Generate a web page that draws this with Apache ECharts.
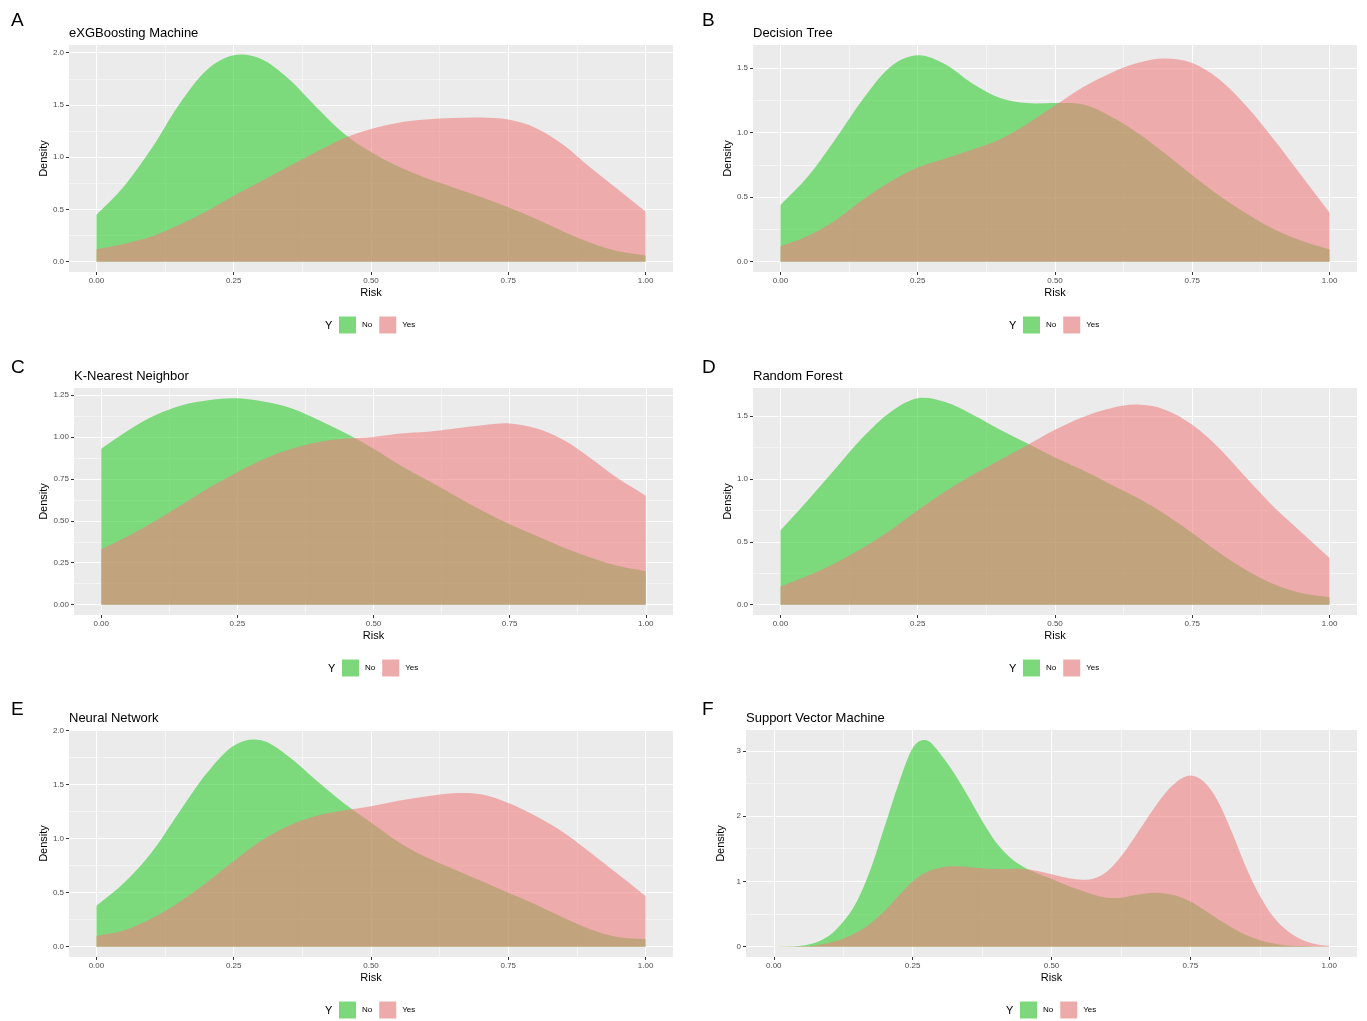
<!DOCTYPE html>
<html>
<head>
<meta charset="utf-8">
<script src="https://cdn.jsdelivr.net/npm/echarts@6/dist/echarts.min.js"></script>
<style>
html,body{margin:0;padding:0;background:#ffffff;}
#main{width:1367px;height:1021px;}
</style>
</head>
<body>
<div id="main"></div>
<script>
// ---------------- DATA ----------------
const panelLetters = ['A', 'B', 'C', 'D', 'E', 'F'];
const panelTitles = ['eXGBoosting Machine', 'Decision Tree', 'K-Nearest Neighbor', 'Random Forest', 'Neural Network', 'Support Vector Machine'];
const groupNames = ['No', 'Yes'];
const legendTitle = 'Y';
const xAxisTitle = 'Risk';
const yAxisTitle = 'Density';
const xTickLabels = ['0.00', '0.25', '0.50', '0.75', '1.00'];

const riskSteps = [0, 0.05, 0.1, 0.15, 0.2, 0.25, 0.3, 0.35, 0.4, 0.45, 0.5, 0.55, 0.6, 0.65, 0.7, 0.75, 0.8, 0.85, 0.9, 0.95, 1.0];
const svmRisk = [0, 0.025, 0.05, 0.075, 0.1, 0.125, 0.15, 0.175, 0.2, 0.225, 0.25, 0.275, 0.3, 0.325, 0.35, 0.375, 0.4, 0.425, 0.45, 0.475, 0.5,
                 0.525, 0.55, 0.575, 0.6, 0.625, 0.65, 0.675, 0.7, 0.725, 0.75, 0.775, 0.8, 0.825, 0.85, 0.875, 0.9, 0.925, 0.95, 0.975, 1.0];

const xgbNo  = [0.45, 0.72, 1.08, 1.50, 1.83, 1.975, 1.94, 1.75, 1.48, 1.23, 1.05, 0.91, 0.80, 0.71, 0.62, 0.52, 0.41, 0.29, 0.18, 0.10, 0.06];
const xgbYes = [0.12, 0.17, 0.24, 0.35, 0.48, 0.63, 0.77, 0.91, 1.05, 1.18, 1.27, 1.33, 1.36, 1.375, 1.38, 1.36, 1.28, 1.12, 0.90, 0.69, 0.48];

const dtNo  = [0.44, 0.66, 0.95, 1.26, 1.51, 1.60, 1.53, 1.38, 1.27, 1.23, 1.23, 1.22, 1.13, 1.00, 0.84, 0.67, 0.51, 0.37, 0.25, 0.16, 0.095];
const dtYes = [0.12, 0.20, 0.32, 0.48, 0.62, 0.73, 0.80, 0.87, 0.95, 1.07, 1.21, 1.35, 1.46, 1.54, 1.575, 1.54, 1.41, 1.20, 0.94, 0.66, 0.38];

const knnNo  = [0.93, 1.04, 1.13, 1.19, 1.22, 1.23, 1.21, 1.17, 1.10, 1.02, 0.93, 0.83, 0.74, 0.65, 0.56, 0.48, 0.41, 0.34, 0.28, 0.23, 0.20];
const knnYes = [0.33, 0.41, 0.50, 0.60, 0.70, 0.79, 0.87, 0.93, 0.97, 0.99, 1.00, 1.02, 1.03, 1.05, 1.07, 1.08, 1.05, 0.98, 0.87, 0.75, 0.65];

const rfNo  = [0.59, 0.83, 1.08, 1.33, 1.53, 1.64, 1.61, 1.51, 1.39, 1.28, 1.17, 1.07, 0.96, 0.85, 0.72, 0.57, 0.41, 0.27, 0.16, 0.09, 0.06];
const rfYes = [0.145, 0.23, 0.33, 0.45, 0.59, 0.75, 0.90, 1.03, 1.15, 1.27, 1.39, 1.49, 1.56, 1.59, 1.55, 1.43, 1.24, 1.00, 0.77, 0.57, 0.37];

const nnNo  = [0.38, 0.59, 0.87, 1.24, 1.60, 1.86, 1.91, 1.76, 1.54, 1.33, 1.15, 0.97, 0.83, 0.72, 0.61, 0.50, 0.39, 0.27, 0.16, 0.09, 0.07];
const nnYes = [0.10, 0.15, 0.26, 0.41, 0.59, 0.79, 0.98, 1.12, 1.21, 1.26, 1.30, 1.35, 1.39, 1.42, 1.41, 1.33, 1.21, 1.06, 0.87, 0.67, 0.47];

const svmNo  = [0, 0.002, 0.015, 0.06, 0.17, 0.38, 0.70, 1.20, 1.85, 2.50, 3.04, 3.16, 2.95, 2.65, 2.30, 1.93, 1.60, 1.37, 1.22, 1.12, 1.04,
                0.95, 0.87, 0.80, 0.75, 0.75, 0.79, 0.82, 0.82, 0.78, 0.69, 0.56, 0.42, 0.29, 0.18, 0.10, 0.05, 0.02, 0.01, 0.002, 0];
const svmYes = [0, 0.001, 0.005, 0.02, 0.06, 0.12, 0.22, 0.36, 0.55, 0.78, 1.00, 1.14, 1.21, 1.23, 1.22, 1.20, 1.19, 1.19, 1.19, 1.16, 1.11,
                1.06, 1.03, 1.04, 1.15, 1.38, 1.68, 2.00, 2.30, 2.52, 2.62, 2.52, 2.22, 1.75, 1.22, 0.78, 0.45, 0.24, 0.11, 0.04, 0.01];

const yTicksXgb = ['0.0', '0.5', '1.0', '1.5', '2.0'];
const yTicksDt  = ['0.0', '0.5', '1.0', '1.5'];
const yTicksKnn = ['0.00', '0.25', '0.50', '0.75', '1.00', '1.25'];
const yTicksRf  = ['0.0', '0.5', '1.0', '1.5'];
const yTicksNn  = ['0.0', '0.5', '1.0', '1.5', '2.0'];
const yTicksSvm = ['0', '1', '2', '3'];

const panels = [
  { x: riskSteps, no: xgbNo, yes: xgbYes, yTicks: yTicksXgb },
  { x: riskSteps, no: dtNo,  yes: dtYes,  yTicks: yTicksDt },
  { x: riskSteps, no: knnNo, yes: knnYes, yTicks: yTicksKnn },
  { x: riskSteps, no: rfNo,  yes: rfYes,  yTicks: yTicksRf },
  { x: riskSteps, no: nnNo,  yes: nnYes,  yTicks: yTicksNn },
  { x: svmRisk,   no: svmNo, yes: svmYes, yTicks: yTicksSvm }
];

// ---------------- LAYOUT / STYLE ----------------
const layout = [
  { gl: 69,  gt: 45,  gw: 604, letterX: 11,  letterY: 19,  titleX: 69,  titleY: 32,  legX: 339,  legY: 325,  yX: 325 },
  { gl: 753, gt: 45,  gw: 604, letterX: 702, letterY: 19,  titleX: 753, titleY: 32,  legX: 1023, legY: 325,  yX: 1009 },
  { gl: 74,  gt: 388, gw: 599, letterX: 11,  letterY: 366, titleX: 74,  titleY: 375, legX: 342,  legY: 668,  yX: 328 },
  { gl: 753, gt: 388, gw: 604, letterX: 702, letterY: 366, titleX: 753, titleY: 375, legX: 1023, legY: 668,  yX: 1009 },
  { gl: 69,  gt: 730, gw: 604, letterX: 11,  letterY: 708, titleX: 69,  titleY: 717, legX: 339,  legY: 1010, yX: 325 },
  { gl: 746, gt: 730, gw: 611, letterX: 702, letterY: 708, titleX: 746, titleY: 717, legX: 1020, legY: 1010, yX: 1006 }
];
const PANEL_H = 227;
const FONT = '"Liberation Sans", Arial, Helvetica, sans-serif';
const fillNo = 'rgba(50,205,50,0.6)';
const fillYes = 'rgba(240,128,128,0.6)';
const keyNo = '#7CD87A';
const keyYes = '#EDAAAA';

function minorOf(vals, lo, hi) {
  const out = [];
  const step = vals[1] - vals[0];
  const ext = [vals[0] - step].concat(vals, [vals[vals.length - 1] + step]);
  for (let i = 0; i < ext.length - 1; i++) {
    const m = (ext[i] + ext[i + 1]) / 2;
    if (m > lo && m < hi) out.push(m);
  }
  return out;
}
function labelFormatter(labels) {
  const vals = labels.map(Number);
  return function (v) {
    let best = 0;
    for (let i = 1; i < vals.length; i++) if (Math.abs(vals[i] - v) < Math.abs(vals[best] - v)) best = i;
    return labels[best];
  };
}

// Smooth cubic Hermite area path through the data points, mapped with the axis scales (api.coord)
function densityPath(pts, api) {
  const n = pts.length;
  const slope = [];
  for (let i = 0; i < n; i++) {
    const a = pts[Math.max(0, i - 1)], b = pts[Math.min(n - 1, i + 1)];
    slope.push((b[1] - a[1]) / (b[0] - a[0]));
  }
  const fmt = (p) => { const q = api.coord(p); return q[0].toFixed(2) + ' ' + q[1].toFixed(2); };
  let d = 'M' + fmt([pts[0][0], 0]) + ' L' + fmt(pts[0]);
  for (let i = 0; i < n - 1; i++) {
    const p0 = pts[i], p1 = pts[i + 1], h = p1[0] - p0[0];
    const c1 = [p0[0] + h / 3, Math.max(0, p0[1] + slope[i] * h / 3)];
    const c2 = [p1[0] - h / 3, Math.max(0, p1[1] - slope[i + 1] * h / 3)];
    d += ' C' + fmt(c1) + ' ' + fmt(c2) + ' ' + fmt(p1);
  }
  d += ' L' + fmt([pts[n - 1][0], 0]) + ' Z';
  return d;
}

const grids = [], xAxes = [], yAxes = [], series = [], titles = [], legends = [];

panels.forEach((p, i) => {
  const L = layout[i];
  const xs = p.x;
  const xMinD = Math.min.apply(null, xs), xMaxD = Math.max.apply(null, xs);
  const xPad = 0.05 * (xMaxD - xMinD);
  const xMin = xMinD - xPad, xMax = xMaxD + xPad;
  const yMaxD = Math.max(Math.max.apply(null, p.no), Math.max.apply(null, p.yes));
  const yMin = -0.05 * yMaxD, yMax = 1.05 * yMaxD;

  const xMajor = xTickLabels.map(Number);
  const yMajor = p.yTicks.map(Number);
  const xMinor = minorOf(xMajor, xMin, xMax);
  const yMinor = minorOf(yMajor, yMin, yMax);

  grids.push({
    left: L.gl, top: L.gt, width: L.gw, height: PANEL_H,
    show: true, backgroundColor: '#EBEBEB', borderWidth: 0
  });

  xAxes.push({
    type: 'value', gridIndex: i, min: xMin, max: xMax, position: 'bottom',
    axisLine: { show: false, onZero: false },
    axisTick: { show: true, length: 3, customValues: xMajor, lineStyle: { color: '#333333', width: 1 } },
    axisLabel: { show: true, customValues: xMajor, formatter: labelFormatter(xTickLabels), fontSize: 8, color: '#4D4D4D', margin: 5, fontFamily: FONT },
    splitLine: { show: true, lineStyle: { color: '#FFFFFF', width: 1.1 } },
    name: xAxisTitle, nameLocation: 'middle', nameGap: 15,
    nameTextStyle: { fontSize: 11, color: '#000000', fontFamily: FONT }
  });
  xAxes.push({
    type: 'value', gridIndex: i, min: xMin, max: xMax, position: 'bottom',
    axisLine: { show: false, onZero: false },
    axisTick: { show: false, customValues: xMinor },
    axisLabel: { show: false },
    splitLine: { show: true, lineStyle: { color: '#FFFFFF', width: 0.5 } }
  });

  yAxes.push({
    type: 'value', gridIndex: i, min: yMin, max: yMax, position: 'left',
    axisLine: { show: false, onZero: false },
    axisTick: { show: true, length: 3, customValues: yMajor, lineStyle: { color: '#333333', width: 1 } },
    axisLabel: { show: true, customValues: yMajor, formatter: labelFormatter(p.yTicks), fontSize: 8, color: '#4D4D4D', margin: 5, fontFamily: FONT },
    splitLine: { show: true, lineStyle: { color: '#FFFFFF', width: 1.1 } },
    name: yAxisTitle, nameLocation: 'middle', nameGap: 20, nameRotate: 90,
    nameTextStyle: { fontSize: 11, color: '#000000', fontFamily: FONT }
  });
  yAxes.push({
    type: 'value', gridIndex: i, min: yMin, max: yMax, position: 'left',
    axisLine: { show: false, onZero: false },
    axisTick: { show: false, customValues: yMinor },
    axisLabel: { show: false },
    splitLine: { show: true, lineStyle: { color: '#FFFFFF', width: 0.5 } }
  });

  const mk = (name, vals, fill, key) => {
    const pts = xs.map((x, j) => [x, vals[j]]);
    return {
      type: 'custom', name: name, xAxisIndex: 2 * i, yAxisIndex: 2 * i,
      data: pts, encode: { x: 0, y: 1 }, silent: true, animation: false,
      itemStyle: { color: key },
      renderItem: function (params, api) {
        if (params.dataIndex !== 0) return null;
        return { type: 'path', shape: { pathData: densityPath(pts, api) }, style: { fill: fill, stroke: null } };
      }
    };
  };
  series.push(mk(groupNames[0], p.no, fillNo, keyNo));
  series.push(mk(groupNames[1], p.yes, fillYes, keyYes));

  titles.push({ text: panelLetters[i], left: L.letterX, top: L.letterY - 8, padding: 0,
    textStyle: { fontSize: 19, fontWeight: 'normal', color: '#000000', fontFamily: FONT } });
  titles.push({ text: panelTitles[i], left: L.titleX, top: L.titleY - 5, padding: 0,
    textStyle: { fontSize: 13, fontWeight: 'normal', color: '#000000', fontFamily: FONT } });
  titles.push({ text: legendTitle, left: L.yX, top: L.legY - 5, padding: 0,
    textStyle: { fontSize: 11, fontWeight: 'normal', color: '#000000', fontFamily: FONT } });

  legends.push({
    left: L.legX, top: L.legY - 8.5, orient: 'horizontal', padding: 0,
    itemWidth: 17, itemHeight: 17, itemGap: 7, icon: 'rect', selectedMode: false,
    textStyle: { fontSize: 8, color: '#000000', fontFamily: FONT, padding: [0, 0, 0, 1] },
    data: [
      { name: groupNames[0], itemStyle: { color: keyNo, borderWidth: 0 } },
      { name: groupNames[1], itemStyle: { color: keyYes, borderWidth: 0 } }
    ]
  });
});

const chart = echarts.init(document.getElementById('main'), null, { renderer: 'canvas' });
chart.setOption({
  backgroundColor: '#FFFFFF',
  animation: false,
  title: titles,
  legend: legends,
  grid: grids,
  xAxis: xAxes,
  yAxis: yAxes,
  series: series
});
</script>
</body>
</html>
